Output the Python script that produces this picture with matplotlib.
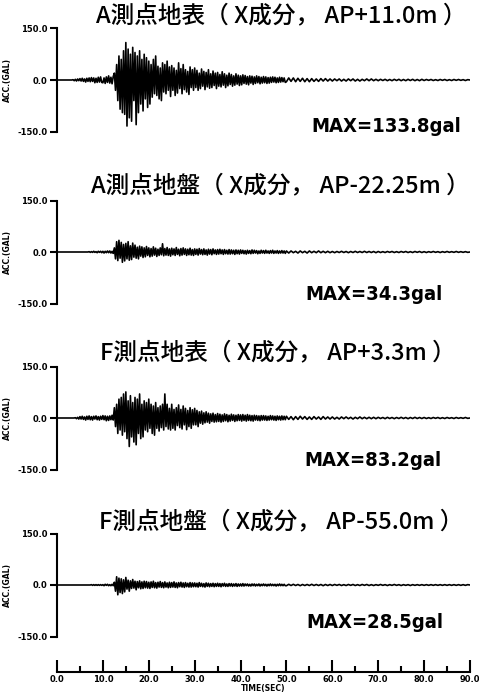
import numpy as np
import matplotlib
matplotlib.use('Agg')
import matplotlib.pyplot as plt

# sample times (s): every 0.25 s up to 50 s, then every 0.5 s
t = np.concatenate([np.arange(0, 50, 0.25), np.arange(50, 90.01, 0.5)])

# A point, ground surface (X, AP+11.0m)
a_surface = [
    0, 0, 0, 0, 0, 0, 0, 0, 0, 0, 0, 0, 0, 0, 1, -2, 2, -3, 3, -2,
    4, -3, 5, -4, 3, -6, 5, -4, 6, -5, 7, -4, 6, -8, 5, -7, 8, -6, 9, -7,
    -8, 6, -10, 9, -7, 12, -9, 8, -11, 10, 20, -30, 45, -60, 70, -85, 60, -95, 85, -100,
    109, -134, 90, -110, 75, -120, 95, -60, 80, -130, 70, -95, 85, -70, 60, -90, 75, -55, 65, -80,
    55, -70, 45, -50, 60, -40, 70, -45, 40, -55, 35, -60, 50, -35, 45, -40, 55, -30, 38, -48,
    42, -30, 35, -45, 28, -38, 50, -25, 33, -40, 45, -28, 30, -35, 25, -42, 38, -22, 30, -30,
    35, -22, 28, -30, 20, -25, 32, -18, 25, -28, 22, -20, 30, -24, 18, -22, 26, -16, 20, -25,
    22, -18, 16, -20, 24, -15, 18, -22, 14, -17, 20, -13, 16, -18, 12, -15, 18, -12, 14, -16,
    12, -14, 15, -10, 13, -12, 10, -14, 12, -9, 11, -13, 9, -10, 12, -8, 10, -11, 8, -9,
    10, -8, 9, -10, 7, -9, 8, -7, 9, -6, 8, -8, 6, -7, 8, -6, 7, -5, 6, -7,
    -5, 6, -4, 6, -5, 5, -4, 5, -5, 4, -5, 4, -4, 3, -4, 4, -3, 4, -3, 3,
    -3, 3, -2, 3, -3, 2, -3, 3, -2, 3, -3, 2, -3, 2, -2, 3, -2, 3, -2, 2,
    -2, 2, -1.5, 2, -2, 1.5, -2, 2, -1.5, 2, -2, 1.5, -2, 2, -1.5, 2, -2, 1.5, -2, 2,
    -1.5, 1.5, -1, 1.5, -1.5, 1, -1.5, 1.5, -1, 1.5, -1.5, 1, -1.5, 1.5, -1, 1.5, -1, 1, -1.5, 1,
    0]

# A point, ground (X, AP-22.25m)
a_ground = [
    0, 0, 0, 0, 0, 0, 0, 0, 0, 0, 0, 0, 0, 0, 0, 0, 0, 0, 0, 0,
    0, 0, 0, 0, 0, 0, 0, 0, 1, -1, 1, -1, 2, -1, 1, -2, 2, -1, 2, -2,
    2, -3, 2, -2, 3, -2, 3, -3, 2, -4, 12, -20, 30, -25, 34, -18, 28, -30, 22, -26,
    25, -20, 30, -24, 18, -22, 26, -15, 20, -18, 14, -20, 17, -12, 15, -16, 12, -14, 16, -10,
    12, -14, 10, -12, 15, -9, 11, -13, 8, -10, 12, -8, 24, -11, 10, -9, 13, -10, 9, -12,
    11, -8, 9, -10, 13, -7, 8, -11, 10, -9, 12, -7, 9, -10, 8, -8, 11, -9, 7, -10,
    9, -7, 8, -9, 10, -6, 7, -8, 9, -7, 6, -9, 8, -6, 7, -8, 9, -5, 6, -7,
    7, -6, 8, -5, 6, -7, 7, -5, 5, -6, 7, -6, 6, -5, 5, -7, 6, -5, 5, -6,
    6, -4, 5, -5, 4, -6, 5, -4, 4, -5, 6, -4, 5, -3, 4, -5, 3, -4, 5, -3,
    4, -4, 5, -3, 3, -4, 4, -3, 5, -4, 3, -3, 4, -4, 3, -3, 4, -3, 3, -4,
    3, -3, 3, -2, 2, -3, 3, -2, 2, -3, 3, -2, 2, -2, 3, -2, 2, -2, 2, -2,
    1.5, -2, 1.5, -1.5, 2, -1.5, 1.5, -2, 1.5, -1.5, 2, -1.5, 1.5, -1.5, 2, -1.5, 1.5, -1.5, 1.5, -2,
    1.5, -1.5, 1, -1.5, 1.5, -1, 1.5, -1.5, 1, -1.5, 1.5, -1, 1.5, -1.5, 1, -1.5, 1.5, -1, 1.5, -1.5,
    1, -1.5, 1, -1, 1.5, -1, 1, -1.5, 1, -1, 1.5, -1, 1, -1, 1.5, -1, 1, -1, 1, -1,
    0]

# F point, ground surface (X, AP+3.3m)
f_surface = [
    0, 0, 0, 0, 0, 0, 0, 0, 0, 0, 0, 0, 0, 0, 0, 0, 1, -2, 2, -3,
    4, -3, 5, -4, 3, -6, 5, -4, 6, -5, 4, -6, 5, -3, 6, -5, 4, -6, 5, -4,
    7, -5, 6, -8, 5, -7, 6, -5, 8, -6, 30, -25, 40, -45, 55, -35, 60, -50, 70, -40,
    76, -60, 50, -83, 65, -55, 45, -70, 60, -78, 55, -45, 70, -60, 40, -55, 50, -35, 45, -40,
    55, -30, 40, -45, 35, -50, 45, -30, 30, -38, 35, -28, 40, -35, 70, -25, 40, -32, 28, -35,
    40, -30, 25, -35, 30, -22, 38, -28, 25, -32, 35, -20, 28, -34, 22, -25, 30, -30, 24, -20,
    28, -20, 22, -25, 18, -15, 20, -18, 15, -14, 18, -12, 14, -15, 12, -10, 14, -12, 10, -11,
    13, -10, 11, -12, 9, -10, 12, -8, 10, -11, 8, -9, 11, -7, 9, -10, 8, -8, 10, -7,
    9, -9, 10, -7, 8, -9, 10, -7, 8, -8, 7, -9, 8, -6, 7, -7, 6, -8, 7, -6,
    7, -6, 6, -7, 5, -6, 7, -5, 6, -6, 5, -7, 6, -5, 5, -6, 6, -5, 5, -5,
    5, -4, 4, -5, 4, -4, 5, -3, 4, -4, 3, -4, 4, -3, 3, -4, 4, -3, 3, -3,
    3, -3, 2, -3, 3, -2, 3, -2, 2, -3, 2, -2, 3, -2, 2, -2, 2, -2, 2, -2,
    2, -1.5, 1.5, -2, 2, -1.5, 1.5, -2, 1.5, -1.5, 2, -1.5, 1.5, -2, 1.5, -1.5, 2, -1.5, 1.5, -1.5,
    1.5, -1.5, 1, -1.5, 1.5, -1, 1.5, -1.5, 1, -1.5, 1.5, -1, 1, -1.5, 1.5, -1, 1, -1, 1.5, -1,
    0]

# F point, ground (X, AP-55.0m)
f_ground = [
    0, 0, 0, 0, 0, 0, 0, 0, 0, 0, 0, 0, 0, 0, 0, 0, 0, 0, 0, 0,
    0, 0, 0, 0, 0, 0, 0, 0, 0, 0, 1, -1, 1, -1, 1, -1, 1, -1, 1, -1,
    1, -2, 2, -1, 2, -2, 1, -2, 2, -2, 8, -18, 24, -28.5, 20, -22, 18, -25, 15, -20,
    22, -12, 14, -18, 12, -10, 16, -9, 11, -14, 10, -8, 12, -11, 9, -10, 11, -8, 10, -9,
    8, -10, 9, -7, 11, -8, 7, -9, 8, -6, 10, -7, 7, -8, 9, -6, 6, -8, 8, -7,
    7, -6, 9, -7, 6, -8, 7, -5, 8, -6, 6, -7, 7, -5, 5, -6, 7, -6, 6, -5,
    6, -5, 5, -6, 7, -4, 5, -5, 4, -6, 6, -4, 5, -5, 4, -4, 5, -5, 4, -4,
    5, -4, 4, -5, 4, -3, 5, -4, 3, -4, 4, -3, 4, -4, 3, -3, 4, -4, 3, -3,
    3, -3, 4, -3, 3, -2, 3, -3, 2, -3, 3, -2, 3, -3, 2, -2, 3, -3, 2, -2,
    3, -2, 2, -3, 2, -2, 3, -2, 2, -2, 2, -3, 2, -2, 3, -2, 2, -2, 2, -2,
    -2, 2, -1.5, 2, -1.5, 1.5, -2, 1.5, -1.5, 1.5, -1.5, 2, -1.5, 1.5, -1.5, 1.5, -2, 1.5, -1.5, 1.5,
    -1.5, 1.5, -1, 1.5, -1.5, 1, -1.5, 1.5, -1, 1.5, -1.5, 1, -1.5, 1.5, -1, 1.5, -1.5, 1, -1.5, 1,
    -1, 1.5, -1, 1, -1.5, 1, -1, 1.5, -1, 1, -1.5, 1, -1, 1, -1.5, 1, -1, 1, -1, 1,
    -1, 1, -1, 1, -1, 1, -1, 1, -1, 1, -1, 1, -1, 1, -1, 1, -1, 1, -1, 1,
    0]

traces = [a_surface, a_ground, f_surface, f_ground]
titles = ['A測点地表（ X成分， AP+11.0m ）',
          'A測点地盤（ X成分， AP-22.25m ）',
          'F測点地表（ X成分， AP+3.3m ）',
          'F測点地盤（ X成分， AP-55.0m ）']
max_labels = ['MAX=133.8gal', 'MAX=34.3gal', 'MAX=83.2gal', 'MAX=28.5gal']
yticks = [150, 0, -150]
ytick_labels = ['150.0', '0.0', '-150.0']
xticks = [0, 10, 20, 30, 40, 50, 60, 70, 80, 90]
xtick_labels = ['0.0', '10.0', '20.0', '30.0', '40.0', '50.0', '60.0', '70.0', '80.0', '90.0']

W, H = 479, 692
x0, x1 = 57, 470
zero_px = [80, 252, 418, 585]
title_px = [(281, 16), (280, 186), (278, 353), (281, 522)]
max_px = [(461, 127), (443, 295), (442, 460), (443, 622)]

fig = plt.figure(figsize=(W / 100, H / 100), dpi=100)
cjk = ['Noto Sans CJK JP', 'DejaVu Sans']

for i, tr in enumerate(traces):
    z = zero_px[i]
    ax = fig.add_axes([x0 / W, 1 - (z + 51.5) / H, (x1 - x0) / W, 103 / H])
    ax.plot(t, tr, color='black', lw=1.2)
    ax.set_xlim(0, 90)
    ax.set_ylim(-150, 150)
    for s in ['top', 'right', 'bottom']:
        ax.spines[s].set_visible(False)
    ax.spines['left'].set_linewidth(1.5)
    ax.set_xticks([])
    ax.set_yticks(yticks)
    ax.set_yticklabels(ytick_labels, fontsize=6, fontweight='bold')
    ax.tick_params(axis='y', length=5, width=1.5, pad=2)
    ax.set_ylabel('ACC.(GAL)', fontsize=5.5, fontweight='bold')
    ax.yaxis.set_label_coords((12 - x0) / (x1 - x0), 0.5)
    ax.patch.set_visible(False)

    tx, ty = title_px[i]
    fig.text(tx / W, 1 - ty / H, titles[i], ha='center', va='center',
             fontsize=17, fontweight='medium', family=cjk)
    mx, my = max_px[i]
    fig.text(mx / W, 1 - my / H, max_labels[i], ha='right', va='center',
             fontsize=14.5, fontweight='bold', fontstretch='condensed',
             family='DejaVu Sans')

# time axis at the bottom
axt = fig.add_axes([x0 / W, 1 - 672 / H, (x1 - x0) / W, 0.02])
axt.set_xlim(0, 90)
axt.set_yticks([])
for s in ['top', 'right', 'left']:
    axt.spines[s].set_visible(False)
axt.spines['bottom'].set_linewidth(1.5)
axt.set_xticks(xticks)
axt.set_xticklabels(xtick_labels, fontsize=6, fontweight='bold')
axt.set_xticks([5, 15, 25, 35, 45, 55, 65, 75, 85], minor=True)
axt.tick_params(axis='x', which='major', direction='in', length=9, width=1.5, pad=2)
axt.tick_params(axis='x', which='minor', direction='in', length=4, width=1.5)
axt.set_xlabel('TIME(SEC)', fontsize=5.5, fontweight='bold', labelpad=0)
axt.patch.set_visible(False)

fig.savefig('out.png', dpi=100)
